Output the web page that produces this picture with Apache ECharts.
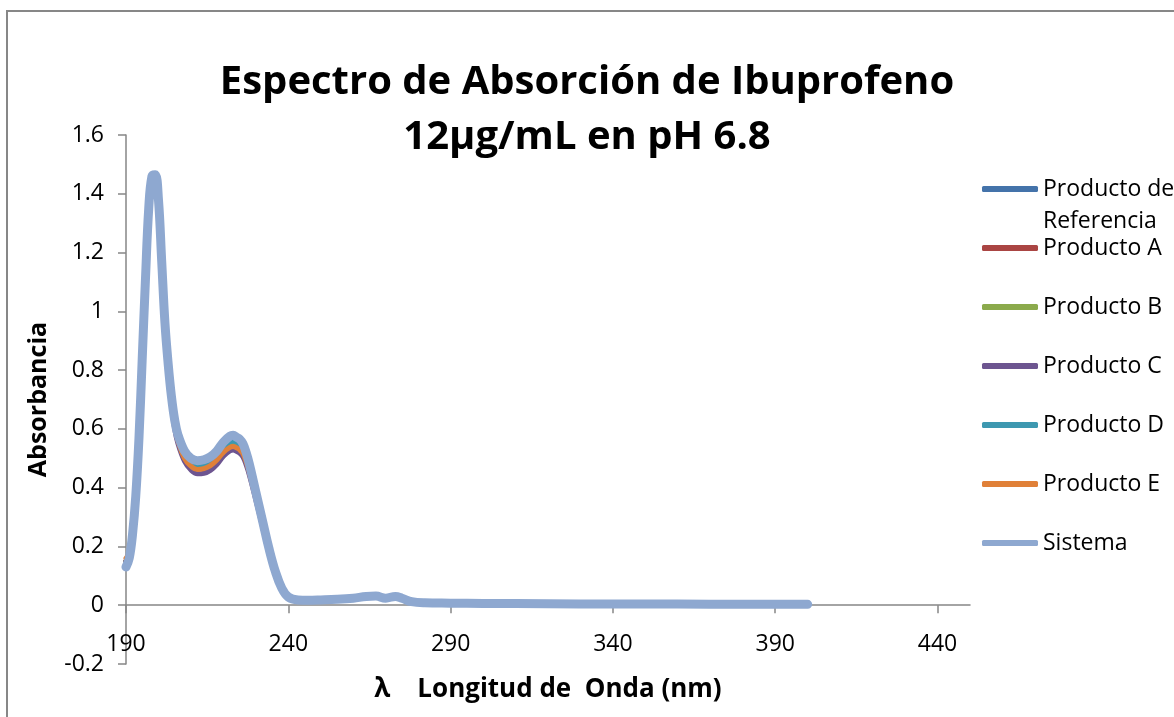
<!DOCTYPE html>
<html>
<head>
<meta charset="utf-8">
<script src="https://cdn.jsdelivr.net/npm/echarts@6/dist/echarts.min.js"></script>
<style>
  html, body { margin: 0; padding: 0; background: #fff; }
  #chart { width: 1174px; height: 717px; }
</style>
</head>
<body>
<div id="chart"></div>
<script>
// Wavelengths (nm)
const wavelengths = [190,191,192,193,194,195,196,197,198,199,200,201,202,203,204,205,206,208,210,212,214,216,218,220,222,223,224,225,226,227,228,230,232,234,236,238,240,243,246,250,255,260,264,267,270,273,275,278,282,290,300,320,340,360,380,400];

const productoReferencia = [0.14,0.17,0.25,0.37,0.56,0.83,1.10,1.33,1.45,1.455,1.37,1.16,0.95,0.81,0.70,0.62,0.57,0.515,0.49,0.481,0.484,0.494,0.514,0.543,0.563,0.566,0.56,0.553,0.538,0.509,0.47,0.377,0.284,0.191,0.113,0.057,0.027,0.018,0.017,0.018,0.02,0.024,0.029,0.03,0.024,0.029,0.023,0.012,0.008,0.007,0.006,0.005,0.004,0.004,0.003,0.003];
const productoA = [0.15,0.17,0.25,0.37,0.56,0.82,1.09,1.32,1.43,1.44,1.36,1.15,0.94,0.80,0.69,0.61,0.565,0.51,0.485,0.476,0.479,0.489,0.51,0.54,0.562,0.566,0.56,0.552,0.537,0.507,0.468,0.375,0.282,0.19,0.112,0.056,0.027,0.018,0.017,0.018,0.02,0.024,0.029,0.03,0.023,0.029,0.023,0.012,0.008,0.007,0.006,0.005,0.004,0.004,0.003,0.003];
const productoB = [0.15,0.17,0.25,0.37,0.56,0.83,1.10,1.32,1.44,1.445,1.365,1.155,0.945,0.805,0.695,0.615,0.565,0.508,0.482,0.471,0.474,0.484,0.504,0.532,0.55,0.553,0.548,0.541,0.527,0.498,0.46,0.37,0.279,0.188,0.111,0.056,0.027,0.018,0.017,0.018,0.02,0.024,0.029,0.03,0.023,0.029,0.023,0.012,0.008,0.007,0.006,0.005,0.004,0.004,0.003,0.003];
const productoC = [0.15,0.17,0.24,0.36,0.55,0.82,1.08,1.31,1.42,1.43,1.35,1.14,0.93,0.79,0.68,0.60,0.55,0.49,0.46,0.447,0.449,0.459,0.479,0.507,0.525,0.528,0.524,0.518,0.505,0.478,0.443,0.358,0.27,0.183,0.108,0.055,0.027,0.019,0.018,0.019,0.021,0.025,0.03,0.031,0.024,0.03,0.024,0.013,0.009,0.008,0.007,0.006,0.005,0.005,0.004,0.004];
const productoD = [0.14,0.16,0.24,0.37,0.56,0.83,1.10,1.33,1.445,1.45,1.37,1.16,0.95,0.81,0.70,0.62,0.57,0.513,0.487,0.478,0.481,0.491,0.511,0.538,0.556,0.559,0.554,0.547,0.533,0.504,0.466,0.374,0.282,0.19,0.112,0.056,0.027,0.018,0.017,0.018,0.02,0.024,0.029,0.03,0.023,0.029,0.023,0.012,0.008,0.007,0.006,0.005,0.004,0.004,0.003,0.003];
const productoE = [0.16,0.18,0.25,0.37,0.56,0.82,1.09,1.32,1.43,1.44,1.36,1.15,0.94,0.80,0.69,0.61,0.56,0.50,0.473,0.462,0.465,0.475,0.494,0.52,0.537,0.54,0.536,0.529,0.516,0.488,0.452,0.364,0.275,0.186,0.11,0.055,0.027,0.018,0.017,0.018,0.02,0.024,0.029,0.03,0.023,0.029,0.023,0.012,0.008,0.007,0.006,0.005,0.004,0.004,0.003,0.003];
const sistema = [0.13,0.16,0.24,0.37,0.57,0.84,1.11,1.35,1.46,1.465,1.38,1.17,0.96,0.82,0.71,0.63,0.58,0.525,0.50,0.492,0.495,0.505,0.525,0.555,0.575,0.578,0.572,0.565,0.55,0.52,0.48,0.385,0.29,0.195,0.115,0.058,0.028,0.018,0.017,0.018,0.02,0.024,0.03,0.031,0.024,0.03,0.024,0.012,0.008,0.007,0.006,0.005,0.004,0.004,0.003,0.003];

const seriesNames = ['Producto de Referencia','Producto A','Producto B','Producto C','Producto D','Producto E','Sistema'];
const seriesValues = [productoReferencia, productoA, productoB, productoC, productoD, productoE, sistema];
const seriesColors = ['#4473AA','#AA4543','#8BAA4C','#6D5590','#3D98B0','#E08038','#8EA8D0'];
const xTickValues = [190, 240, 290, 340, 390, 440];

const FONT = 'Open Sans';
const chart = echarts.init(document.getElementById('chart'));

const option = {
  backgroundColor: '#ffffff',
  animation: false,
  title: {
    text: 'Espectro de Absorción de Ibuprofeno\n12µg/mL en pH 6.8',
    left: 582,
    top: 50,
    textAlign: 'center',
    textStyle: { fontFamily: FONT, fontWeight: 'bold', fontSize: 40, lineHeight: 55, color: '#000' }
  },
  grid: { left: 126, right: 204, top: 135, bottom: 53, containLabel: false, outerBoundsMode: 'none' },
  legend: {
    orient: 'vertical',
    left: 982,
    top: 174,
    padding: 0,
    itemWidth: 56,
    itemHeight: 6,
    itemGap: 29,
    icon: 'roundRect',
    data: seriesNames,
    formatter: function (name) { return name === 'Producto de Referencia' ? 'Producto de' : name; },
    textStyle: { fontFamily: FONT, fontSize: 23, lineHeight: 30, color: '#000' }
  },
  graphic: [
    { type: 'rect', z: -10, silent: true, shape: { x: 7, y: 11, width: 1200, height: 720 }, style: { fill: 'none', stroke: '#878787', lineWidth: 2 } },
    { type: 'text', left: 1043, top: 210, silent: true, style: { text: 'Referencia', fontFamily: FONT, fontSize: 23, fill: '#000' } }
  ],
  xAxis: {
    type: 'value',
    min: 190,
    max: 450,
    interval: 50,
    name: 'λ    Longitud de  Onda (nm)',
    nameLocation: 'middle',
    nameGap: 13,
    nameMoveOverlap: false,
    nameTextStyle: { fontFamily: FONT, fontWeight: 'bold', fontSize: 26, color: '#000' },
    axisLine: { onZero: true, lineStyle: { color: '#868686', width: 1.5 } },
    axisTick: { show: true, length: 8, customValues: xTickValues, lineStyle: { color: '#868686', width: 1.5 } },
    axisLabel: { customValues: xTickValues, margin: -31, fontFamily: FONT, fontSize: 23, color: '#000' },
    splitLine: { show: false }
  },
  yAxis: {
    type: 'value',
    min: -0.2,
    max: 1.6,
    interval: 0.2,
    name: 'Absorbancia',
    nameLocation: 'middle',
    nameGap: 75,
    nameRotate: 90,
    nameTextStyle: { fontFamily: FONT, fontWeight: 'bold', fontSize: 25, color: '#000' },
    axisLine: { show: true, onZero: false, lineStyle: { color: '#868686', width: 1.5 } },
    axisTick: { show: true, length: 8, lineStyle: { color: '#868686', width: 1.5 } },
    axisLabel: {
      margin: 22, fontFamily: FONT, fontSize: 23, color: '#000',
      formatter: function (v) { return String(Math.round(v * 10) / 10); }
    },
    splitLine: { show: false }
  },
  series: seriesNames.map(function (name, k) {
    return {
      name: name,
      type: 'line',
      smooth: 0.4,
      showSymbol: false,
      symbol: 'none',
      color: seriesColors[k],
      lineStyle: { color: seriesColors[k], width: k === 6 ? 9 : 5, cap: 'round', join: 'round' },
      z: 2 + k,
      data: wavelengths.map(function (w, i) { return [w, seriesValues[k][i]]; })
    };
  })
};

chart.setOption(option);
</script>
</body>
</html>
